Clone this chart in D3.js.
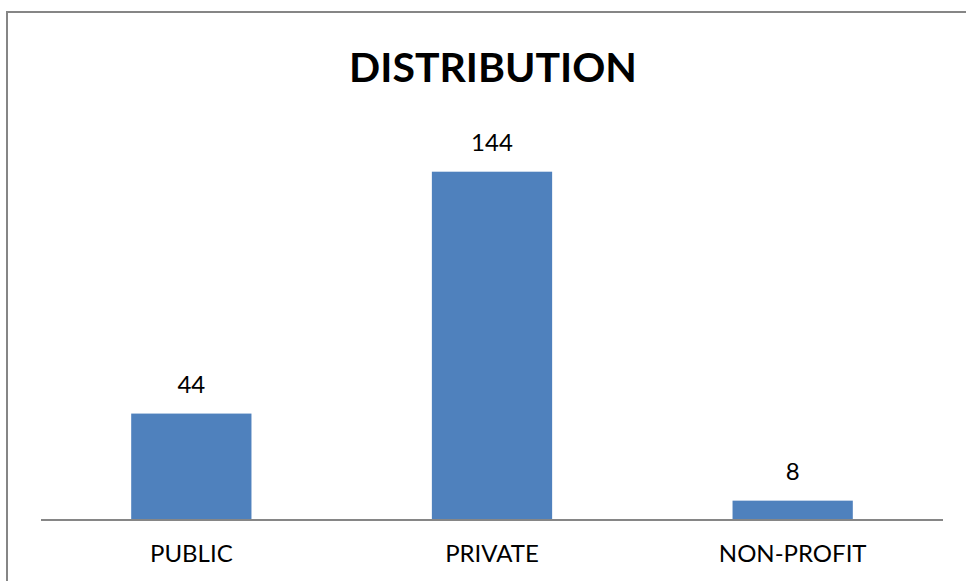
<!DOCTYPE html>
<html>
<head>
<meta charset="utf-8">
<script src="https://cdn.jsdelivr.net/npm/d3@7"></script>
<style>
  html, body { margin: 0; padding: 0; background: #fff; }
  svg { display: block; }
</style>
</head>
<body>
<svg id="chart" width="966" height="581"></svg>
<script>
const categories = ["PUBLIC", "PRIVATE", "NON-PROFIT"];
const values = [44, 144, 8];
const chartTitle = "DISTRIBUTION";
const yMax = 160;

const svg = d3.select("#chart");
const plot = { left: 41, right: 943, top: 133, bottom: 520 };

// outer border
svg.append("rect")
  .attr("x", 7).attr("y", 12)
  .attr("width", 980).attr("height", 600)
  .attr("fill", "#fff")
  .attr("stroke", "#868686")
  .attr("stroke-width", 2);

const x = d3.scaleBand()
  .domain(categories)
  .range([plot.left, plot.right])
  .paddingInner(0.6)
  .paddingOuter(0.3);

const y = d3.scaleLinear()
  .domain([0, yMax])
  .range([plot.bottom, plot.top]);

// title
svg.append("text")
  .attr("x", (plot.left + plot.right) / 2 + 1)
  .attr("y", 82)
  .attr("text-anchor", "middle")
  .attr("font-family", "Lato, 'Open Sans', sans-serif")
  .attr("font-weight", "bold")
  .attr("font-size", 41)
  .attr("fill", "#000")
  .text(chartTitle);

const data = categories.map((c, i) => ({ c, v: values[i] }));

// bars
svg.append("g").selectAll("rect")
  .data(data)
  .join("rect")
  .attr("x", d => x(d.c))
  .attr("y", d => y(d.v))
  .attr("width", x.bandwidth())
  .attr("height", d => y(0) - y(d.v))
  .attr("fill", "#4F81BD");

// value labels
svg.append("g").selectAll("text")
  .data(data)
  .join("text")
  .attr("x", d => x(d.c) + x.bandwidth() / 2)
  .attr("y", d => y(d.v) - 21)
  .attr("text-anchor", "middle")
  .attr("font-family", "Lato, 'Open Sans', sans-serif")
  .attr("font-size", 24)
  .attr("fill", "#000")
  .text(d => d.v);

// x axis
const xAxis = d3.axisBottom(x).tickSize(0).tickPadding(0);
const gx = svg.append("g")
  .attr("transform", `translate(0,${plot.bottom})`)
  .call(xAxis);
gx.select(".domain")
  .attr("stroke", "#868686")
  .attr("stroke-width", 2)
  .attr("d", `M${plot.left},0H${plot.right}`);
gx.selectAll(".tick text")
  .attr("y", 42)
  .attr("dy", 0)
  .attr("font-family", "Lato, 'Open Sans', sans-serif")
  .attr("font-size", 24)
  .attr("fill", "#000");
</script>
</body>
</html>
